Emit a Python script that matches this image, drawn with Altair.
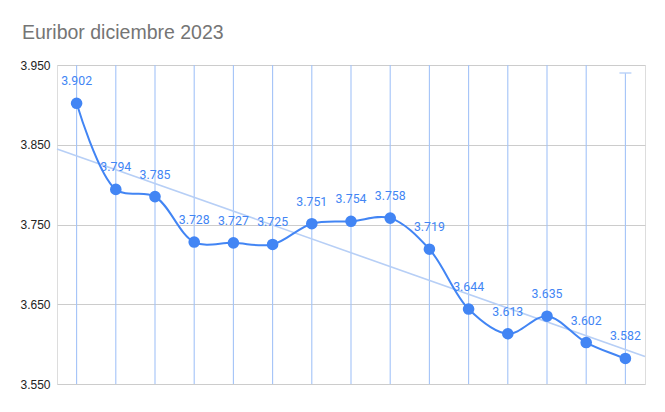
import altair as alt
import pandas as pd

# Data
idx = list(range(15))
values = [3.902, 3.794, 3.785, 3.728, 3.727, 3.725, 3.751, 3.754, 3.758,
          3.719, 3.644, 3.613, 3.635, 3.602, 3.582]
rule_tops = [3.950, 3.950, 3.950, 3.950, 3.950, 3.950, 3.950, 3.950,
             3.950, 3.950, 3.950, 3.950, 3.950, 3.950, 3.940]
rule_bottom = 3.550
y_ticks = [3.55, 3.65, 3.75, 3.85, 3.95]
title_text = "Euribor diciembre 2023"

df = pd.DataFrame({"x": idx, "y": values, "top": rule_tops,
                   "bottom": [rule_bottom] * len(idx)})
cap_df = df.tail(1)

BLUE = "#4285f4"

xs = alt.Scale(domain=[-0.5, 14.5], nice=False, zero=False)
ys = alt.Scale(domain=[3.55, 3.95], nice=False, zero=False)

X = alt.X("x:Q", scale=xs, axis=None)
Y = alt.Y("y:Q", scale=ys, title=None,
          axis=alt.Axis(values=y_ticks, format=".3f", grid=True, gridColor="#cccccc",
                        gridWidth=1, domain=False, ticks=False, labelPadding=7,
                        labelFont="Liberation Sans", labelFontSize=12,
                        labelColor="#222222"))

base = alt.Chart(df)

grid_layer = base.mark_rule(opacity=0).encode(x=X, y=Y)

vrules = base.mark_rule(color="#a3c3f8", strokeWidth=1.1).encode(
    x=alt.X("x:Q", scale=xs, axis=None),
    y=alt.Y("top:Q", scale=ys),
    y2="bottom:Q",
)

cap = alt.Chart(cap_df).mark_tick(color="#b9d1f8", orient="horizontal",
                                  size=12, thickness=2).encode(
    x=alt.X("x:Q", scale=xs, axis=None),
    y=alt.Y("top:Q", scale=ys),
)

trend = base.transform_regression("x", "y", extent=[-0.5, 14.5]).mark_line(
    color="#b7cff6", strokeWidth=1.6).encode(x=X, y=alt.Y("y:Q", scale=ys))

line = base.mark_line(color=BLUE, strokeWidth=2, interpolate="catmull-rom").encode(
    x=X, y=alt.Y("y:Q", scale=ys))

points = base.mark_circle(color=BLUE, size=135, opacity=1).encode(
    x=X, y=alt.Y("y:Q", scale=ys))

labels = base.mark_text(color=BLUE, font="Roboto", fontSize=12.3, dy=-22,
                        baseline="middle", align="center").encode(
    x=X, y=alt.Y("y:Q", scale=ys), text=alt.Text("y:Q", format=".3f"))

chart = alt.layer(grid_layer, vrules, cap, trend, line, points, labels).properties(
    width=588, height=319,
    autosize=alt.AutoSizeParams(type="none"),
    padding={"left": 49, "top": 57, "right": 12, "bottom": 20},
    title=alt.TitleParams(title_text, anchor="start", frame="group", dx=-35,
                          offset=16, font="Liberation Sans", fontSize=19.5,
                          fontWeight="normal", color="#757575"),
).configure_view(stroke=None).configure(background="white")

chart.save("out.html", embed_options={"renderer": "svg", "actions": False})
